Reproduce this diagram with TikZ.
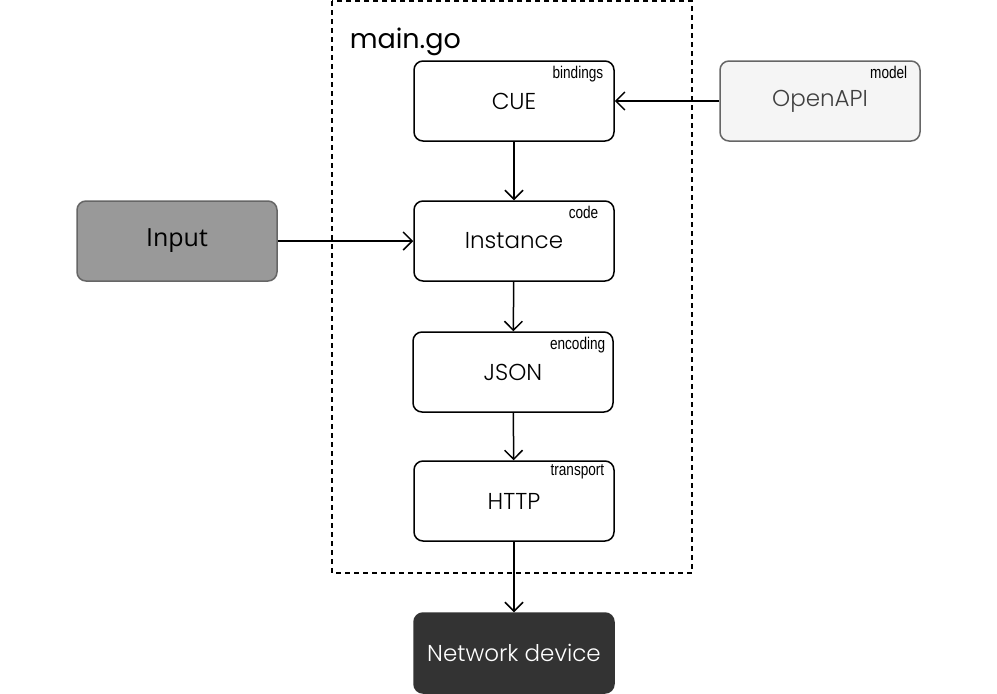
\documentclass[tikz,border=0pt]{standalone}
\usepackage{fontspec}
\setmainfont{Poppins}[UprightFont=* Light]
\newfontfamily\titlefont{Poppins}
\newfontfamily\inputfont{Open Sans}
\newfontfamily\tagfont{Liberation Sans}[FakeStretch=0.8]
\usetikzlibrary{arrows.meta}

\begin{document}
\begin{tikzpicture}[x=1pt, y=-1pt, >={Straight Barb[length=9pt,width=18pt]},
                    semithick, line width=1.5pt]
  \tikzset{
    block/.style={draw=black, rounded corners=9pt, minimum width=200pt,
                  minimum height=80pt, inner sep=0pt, font=\fontsize{23}{27}\selectfont},
    tag/.style={anchor=north east, inner sep=0pt, font=\tagfont\fontsize{17}{19}\selectfont},
    flow/.style={->, line width=1.5pt}
  }
  \useasboundingbox (0,0) rectangle (997,694);

  % container
  \draw[dashed, line width=1.5pt, dash pattern=on 5pt off 4pt] (332,1) rectangle (692,573);
  \node[anchor=base west, inner sep=0pt, font=\titlefont\fontsize{27}{30}\selectfont] (maingo) at (349,48) {main.go};

  \node[block]                                 (cue)      at (514,101) {CUE};
  \node[block, fill=black!4, draw=black!60, text=black!75] (openapi) at (820,101) {OpenAPI};
  \node[block]                                 (instance) at (514,241) {Instance};
  \node[block, fill=black!40, draw=black!60, font=\inputfont\fontsize{25}{29}\selectfont] (input) at (177,241) {Input};
  \node[block]                                 (json)     at (513,372) {JSON};
  \node[block]                                 (http)     at (514,501) {HTTP};
  \node[block, fill=black!80, draw=black!80, text=white] (device) at (514,653) {Network device};

  % package tags
  \node[tag] (tcue)  at (604,65)  {bindings};
  \node[tag] (tapi)  at (908,65)  {model};
  \node[tag] (tinst) at (599,205) {code};
  \node[tag] (tjson) at (606,336) {encoding};
  \node[tag] (thttp) at (605,464) {transport};

  \draw[flow] (openapi) -- (cue);
  \draw[flow] (cue) -- (instance);
  \draw[flow] (input) -- (instance);
  \draw[flow] (instance) -- (json);
  \draw[flow] (json) -- (http);
  \draw[flow] (http) -- (device);
\end{tikzpicture}
\end{document}
